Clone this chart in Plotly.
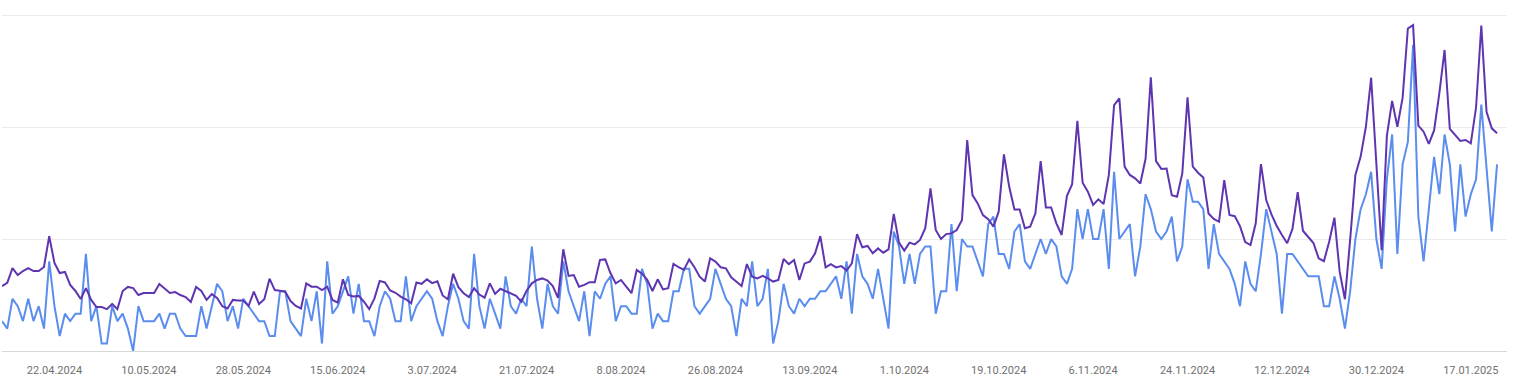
import pandas as pd
import plotly.graph_objects as go

# ---- data -------------------------------------------------------------
start_date = "2024-04-12"

clicks = [
    4, 3, 7, 6, 4, 7, 4, 6, 3, 12,
    6, 2, 5, 4, 5, 5, 13, 4, 6, 1,
    1, 6, 4, 5, 3, 0, 6, 4, 4, 4,
    5, 3, 5, 5, 3, 2, 2, 2, 6, 3,
    6, 9, 8, 4, 6, 3, 7, 6, 5, 4,
    4, 2, 2, 8, 8, 4, 3, 2, 7, 4,
    8, 1, 12, 5, 6, 8, 10, 5, 9, 4,
    4, 2, 6, 8, 7, 4, 4, 10, 4, 6,
    7, 8, 7, 4, 2, 6, 9, 7, 4, 3,
    13, 6, 3, 7, 5, 3, 10, 6, 5, 7,
    6, 14, 7, 3, 9, 6, 5, 12, 8, 6,
    4, 8, 2, 8, 7, 9, 10, 4, 6, 6,
    5, 5, 11, 9, 3, 5, 4, 4, 8, 8,
    11, 11, 6, 5, 6, 7, 11, 9, 7, 6,
    2, 7, 6, 12, 6, 7, 11, 1, 4, 9,
    6, 5, 7, 6, 7, 7, 8, 8, 9, 10,
    7, 12, 5, 13, 10, 9, 7, 11, 7, 3,
    16, 14, 9, 13, 9, 13, 14, 14, 5, 8,
    8, 17, 8, 15, 14, 14, 12, 10, 17, 18,
    13, 13, 11, 16, 17, 12, 11, 13, 15, 13,
    15, 14, 10, 9, 11, 19, 15, 19, 15, 15,
    19, 11, 24, 15, 16, 17, 10, 14, 21, 19,
    16, 15, 16, 18, 12, 14, 23, 20, 20, 19,
    11, 17, 13, 12, 11, 9, 6, 12, 9, 8,
    13, 19, 16, 13, 5, 13, 13, 12, 11, 10,
    10, 10, 6, 6, 10, 7, 3, 8, 15, 19,
    21, 24, 15, 11, 23, 29, 13, 25, 28, 41,
    18, 12, 19, 26, 21, 29, 25, 16, 25, 18,
    21, 23, 33, 25, 16, 25,
]

impressions = [
    290, 304, 370, 339, 357, 370, 357, 357, 375, 513,
    393, 348, 353, 295, 268, 232, 281, 228, 196, 196,
    187, 210, 187, 268, 286, 281, 250, 259, 259, 259,
    299, 281, 259, 263, 250, 241, 219, 286, 268, 228,
    254, 237, 200, 190, 228, 225, 225, 201, 265, 210,
    231, 323, 272, 269, 265, 223, 201, 190, 302, 287,
    287, 272, 287, 228, 216, 320, 250, 243, 246, 220,
    187, 235, 313, 306, 270, 260, 243, 231, 213, 306,
    300, 320, 303, 311, 248, 231, 345, 285, 258, 241,
    280, 252, 238, 302, 255, 278, 268, 257, 246, 220,
    269, 302, 317, 324, 314, 290, 237, 454, 335, 339,
    287, 295, 307, 307, 407, 409, 347, 302, 317, 287,
    258, 362, 345, 318, 268, 320, 275, 280, 389, 374,
    362, 409, 374, 332, 310, 414, 399, 374, 369, 329,
    310, 290, 388, 332, 324, 335, 324, 310, 317, 411,
    388, 406, 317, 391, 399, 436, 513, 373, 388, 373,
    379, 359, 391, 522, 463, 469, 436, 458, 439, 454,
    612, 484, 448, 484, 476, 496, 548, 726, 540, 500,
    522, 525, 540, 585, 942, 696, 659, 607, 588, 555,
    622, 878, 734, 632, 632, 548, 555, 615, 848, 641,
    641, 570, 518, 692, 745, 1028, 751, 711, 652, 677,
    656, 786, 1098, 1128, 823, 786, 771, 748, 858, 1222,
    848, 813, 815, 696, 689, 793, 1132, 823, 796, 775,
    614, 590, 577, 763, 607, 602, 557, 486, 473, 570,
    834, 674, 610, 558, 518, 481, 545, 709, 537, 508,
    482, 414, 401, 488, 595, 354, 231, 497, 786, 868,
    1001, 1220, 830, 450, 960, 1116, 1001, 1130, 1440, 1455,
    1006, 979, 925, 985, 1150, 1344, 992, 964, 938, 942,
    927, 1087, 1453, 1068, 994, 972,
]

tick_dates = [
    "2024-04-22", "2024-05-10", "2024-05-28", "2024-06-15", "2024-07-03",
    "2024-07-21", "2024-08-08", "2024-08-26", "2024-09-13", "2024-10-01",
    "2024-10-19", "2024-11-06", "2024-11-24", "2024-12-12", "2024-12-30",
    "2025-01-17",
]
tick_labels = [
    "22.04.2024", "10.05.2024", "28.05.2024", "15.06.2024", "3.07.2024",
    "21.07.2024", "8.08.2024", "26.08.2024", "13.09.2024", "1.10.2024",
    "19.10.2024", "6.11.2024", "24.11.2024", "12.12.2024", "30.12.2024",
    "17.01.2025",
]

dates = pd.date_range(start_date, periods=len(clicks), freq="D")

# ---- figure -----------------------------------------------------------
fig = go.Figure()
fig.add_trace(go.Scatter(
    x=dates, y=impressions, mode="lines", yaxis="y2",
    line=dict(color="#5E35B1", width=2), name="Impressions",
))
fig.add_trace(go.Scatter(
    x=dates, y=clicks, mode="lines", yaxis="y",
    line=dict(color="#5B8DEF", width=2), name="Clicks",
))

x_end = dates[0] + pd.Timedelta(days=286.9)

fig.update_layout(
    width=1515, height=385,
    margin=dict(l=2, r=8, t=8, b=34),
    paper_bgcolor="white", plot_bgcolor="white",
    showlegend=False,
    font=dict(family="Roboto, Arial, sans-serif", size=11, color="#707070"),
    xaxis=dict(
        range=[dates[0], x_end],
        tickmode="array", tickvals=tick_dates, ticktext=tick_labels,
        showgrid=False, zeroline=False,
        showline=True, linecolor="#d6d6d6", linewidth=1,
        ticks="outside", ticklen=9, tickcolor="rgba(0,0,0,0)",
        tickfont=dict(size=11, color="#707070"),
    ),
    yaxis=dict(
        range=[0, 45.94], tickmode="array", tickvals=[15, 30, 45],
        showticklabels=False, showgrid=True, gridcolor="#ebebeb",
        gridwidth=1, zeroline=False, showline=False,
    ),
    yaxis2=dict(
        range=[0, 1531.3], overlaying="y", side="right",
        showticklabels=False, showgrid=False, zeroline=False, showline=False,
    ),
)

fig.write_html(
    "out.html",
    config={"displayModeBar": False},
    post_script="document.body.style.margin='0';",
)
